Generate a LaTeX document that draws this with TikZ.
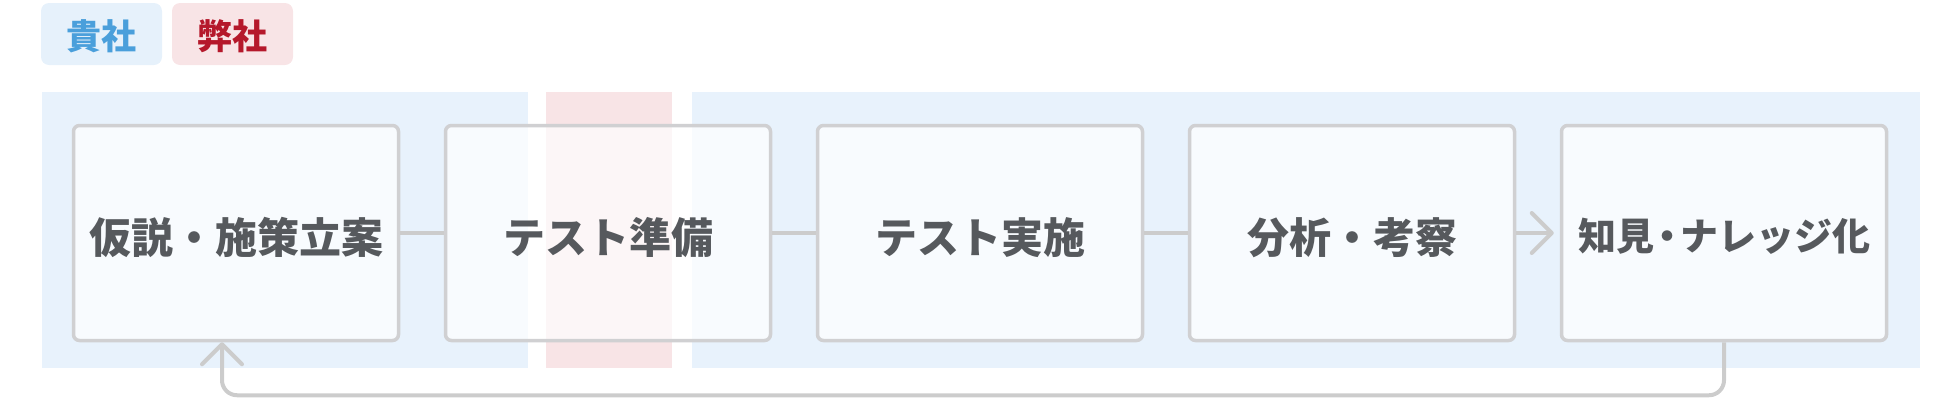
\documentclass[tikz,border=0pt]{standalone}
\usepackage{fontspec}
\setmainfont{Noto Sans CJK JP}
\usetikzlibrary{arrows.meta}

\definecolor{bandblue}{HTML}{E8F2FC}
\definecolor{bandpink}{HTML}{F8E4E6}
\definecolor{tagblue}{HTML}{E6F1FB}
\definecolor{tagbluetext}{HTML}{4A9FDB}
\definecolor{tagredtext}{HTML}{B5182B}
\definecolor{boxline}{HTML}{D0D0D2}
\definecolor{boxtext}{HTML}{56595D}
\definecolor{linkgray}{HTML}{CCCCCC}

\begin{document}
\begin{tikzpicture}[x=1pt, y=-1pt]
\tikzstyle{box}=[draw=boxline, line width=3.5pt, rounded corners=6pt, fill=white, fill opacity=0.7, text opacity=1, minimum width=325pt, minimum height=215pt, inner sep=0pt, text=boxtext, text height=43pt, text depth=3pt, font=\fontsize{42}{50}\selectfont\bfseries]
\tikzstyle{tag}=[rounded corners=8pt, minimum width=121pt, minimum height=62pt, inner sep=0pt, text height=31pt, text depth=1pt, font=\fontsize{35}{40}\selectfont\bfseries]
\tikzstyle{link}=[draw=linkgray, line width=4pt]

\useasboundingbox (0, 0) rectangle (1960, 400);

% legend
\node (you) at (101.5, 34) [tag, fill=tagblue, text=tagbluetext] {貴社};
\node (we) at (232.5, 34) [tag, fill=bandpink, text=tagredtext] {弊社};

% who does which part
\fill [bandblue] (42, 92) rectangle (528, 368);
\fill [bandpink] (546, 92) rectangle (672, 368);
\fill [bandblue] (692, 92) rectangle (1920, 368);

\node (s1) at (236, 233) [box] {仮説・施策立案};
\node (s2) at (608, 233) [box] {テスト準備};
\node (s3) at (980, 233) [box] {テスト実施};
\node (s4) at (1352, 233) [box] {分析・考察};
\node (s5) at (1724, 233) [box, text height=37pt, font=\fontsize{38}{44}\selectfont\bfseries] {知見\kern-6pt・\kern-6pt ナレッジ化};

\draw [link] (s1) to (s2);
\draw [link] (s2) to (s3);
\draw [link] (s3) to (s4);
\draw [link, -{Straight Barb[length=20pt, width=40pt, round]}, shorten >=6pt] (s4) to (s5);

% back to the start
\draw [link, rounded corners=15pt, -{Straight Barb[length=20pt, width=40pt, round]}]
    (s5.south) -- ++(0, 53) -| ([xshift=-14pt]s1.south);

\end{tikzpicture}
\end{document}
